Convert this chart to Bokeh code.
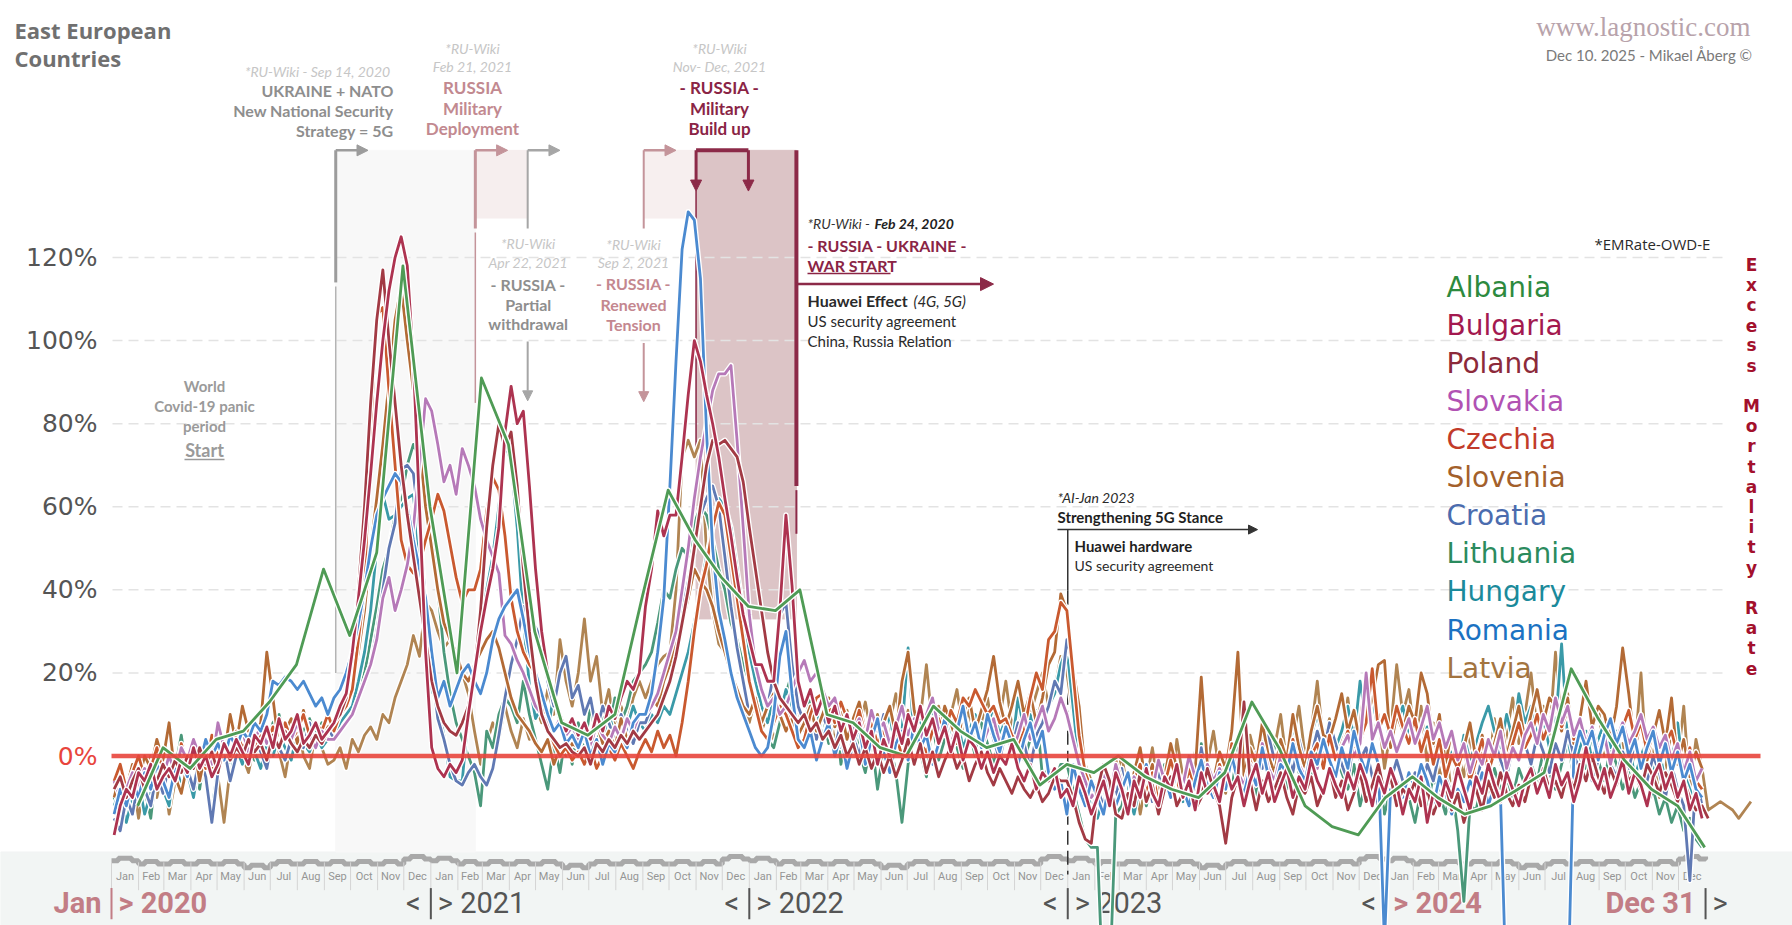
import pandas as pd
from bokeh.plotting import figure
from bokeh.models import Range1d, ColumnDataSource, Arrow, NormalHead
from bokeh.core.properties import value
from bokeh.embed import file_html
from bokeh.resources import INLINE

# ------------------------------------------------------------------ data
countries = ["Albania", "Bulgaria", "Poland", "Slovakia", "Czechia", "Slovenia",
             "Croatia", "Lithuania", "Hungary", "Romania", "Latvia"]
legend_colors = ["#2d8a3e", "#a3194f", "#8c2a3a", "#b152b3", "#c23b2a", "#a3602b",
                 "#4b6cae", "#2b8b5e", "#1b8a9b", "#1b72c2", "#a3743f"]
line_colors = ["#4f9b55", "#ad3350", "#a23a44", "#b679b8", "#c9592f", "#b36a35",
               "#6079b3", "#4a987a", "#3a9aa8", "#4b8ad0", "#b08452"]

# weekly excess-mortality P-scores (%), first week of Jan 2020 onwards
bulgaria = [
    -19, -12, -8, -10, -4, -6, -2, -8, -5, -3, -6, -1, -4, 2, -3, 0, -5, -2, 3, 0, 4, 1, -2, 5, 3, 7, 2, 9, 4, 6, 10, 3, 5, 8, 4, 6,
    8, 12, 15, 25, 38, 52, 68, 85, 100, 112, 120, 125, 118, 95, 60, 25,
    2, -3, -5, -2, -4, -1, 10, 20, 30, 38, 45, 55, 78, 89, 80, 83, 65, 45, 30, 20, 14, 10, 6, 9,
    5, 8, 4, 10, 6, 12, 9, 14, 18, 16, 20,
    36, 45, 59, 53, 58, 58, 72, 87, 100, 95, 87, 80, 72, 62, 53, 43, 34, 28, 22, 22, 18, 18, 35, 58, 41, 18,
    12, 16, 10, 14, 8, 12, 6, 10, 4, 8, 2, 6, -2, 4, 0, 8, 3, 10, 6, 12, 5, 9, 3, 7, 1, 6, -1, 4, 2, -3,
    1, -4, 0, -2, 3, -3, -6, -2, -8, -4, -6, -3, -10,
    -8, -12, -5, -9, -14,
    -10, -6, -12, -4, -8, -14, -6, -10, -3, -9, -12, -5, -8, -2, -10, -6, -13, -4, -9, -7, -11, -3, -8, -5, -12,
    -6, -2, -9, -4, -11, -7, -3, -10, -5, -8, -1, -6, -9, -3, -7, -10, -4, -8, -2, -6, -12, -5, -9, -3, -7,
    -14, -8, -11, -5, -16, -9, -12, -6, -10, -3, -8, -13, -5, -9, -2, -7, -11, -4, -8, -12, -6, -3, -9, -5, -10,
    -2, -7, -4, -11, -6, 2, -5, -8, -3, -10, -6, -1, -9, -4, -7, -12, -5, -2, -8, -4, -10, -6, -13, -9, -15]
poland = [
    -8, -5, -10, -6, -3, -8, -4, -6, -2, -5, -1, -4, 0, -3, 2, -2, 1, -4, 3, -1, 2, 0, 4, 1, 3, -1, 5, 2, 6, 3, 1, 4, 2, 5, 3, 6,
    8, 10, 14, 25, 40, 60, 85, 105, 117, 100, 85, 70, 58, 48, 38, 28,
    18, 12, 8, 6, 5, 8, 12, 20, 35, 55, 70, 80, 74, 78, 65, 45, 30, 18, 10, 6, 4, 2, 3, 1,
    0, 2, -2, 3, 1, 4, 2, 5, 3, 6, 4,
    6, 8, 10, 14, 18, 24, 32, 40, 50, 60, 70, 76, 75, 76, 74, 72, 66, 55, 45, 35, 25, 18, 14, 12, 10, 8,
    10, 6, 8, 4, 6, 2, 5, 0, 3, -2, 2, -3, 1, -4, 0, -5, -1, 4, -2, 3, -4, 1, -5, -1, 2, -3, 0, -6, -2, 1,
    -4, -7, -3, -6, -9, -5, -8, -10, -7, -11, -9, -5, -6,
    -6, -10, -16, -20, -21,
    -8, -2, -6, -14, -15, -9, -12, -4, -11, -7, -14, -8, -5, -12, -9, -6, -13, -10, -3, -8, -12, -21, -10, -5, 13,
    -6, -13, -6, -11, -8, -4, -10, -14, -7, -9, -5, -12, -8, -3, -10, -6, -13, -9, -4, -11, -7, -2, -9, -5, -12, -8,
    -10, -6, -12, -8, -14, -10, -7, -13, -9, -16, -11, -8, -13, -6, -10, -4, -9, -12, -7, -11, -5, -9, -3, -8, -6,
    -10, -4, -8, -2, -6, 0, -5, -9, -3, -7, -1, -6, -4, -8, -2, -5, -9, -4, -7, -11, -6, -10, -13, -12, -15]
slovakia = [
    -6, -10, -8, -4, -7, -3, -6, -2, -5, 0, -4, 2, -1, 4, 0, 3, -2, 8, 2, 5, 3, 6, 1, 4, 7, 3, 5, 2, 6, 4, 8, 3, 5, 2, 6, 4,
    4, 6, 8, 10, 14, 18, 22, 28, 38, 43, 35, 40, 46, 55, 70, 86,
    83, 75, 66, 70, 63, 74, 70, 65, 57, 52, 48, 44, 29, 27, 23, 20, 16, 12, 10, 8, 6, 9, 5, 7,
    4, 6, 2, 8, 5, 3, 7, 4, 9, 6, 10,
    10, 12, 15, 20, 25, 30, 40, 50, 62, 72, 80, 88, 92, 92, 94, 76, 55, 34, 22, 16, 12, 14, 10, 12, 16, 20,
    23, 18, 20, 16, 12, 14, 8, 10, 6, 9, 4, 11, 6, 8, 3, 7, 12, 5, 9, 4, 10, 14, 6, 8, 3, 7, 10, 4, 8, 2,
    6, 9, 3, 7, 1, 5, 10, 4, 8, 12, 6, 9, 14,
    10, 4, -2, -6, -10,
    -8, -4, -10, -2, -7, -12, -5, -9, -3, -8, -1, -6, -10, -4, -7, 0, -5, -9, -2, -6, -3, -8, 1, -4, -7,
    -2, -5, 3, -3, -6, 0, -4, 2, -2, -5, 1, -3, 4, -1, -4, 2, 5, 0, 3, 20, 4, 8, 2, 6, 1,
    5, 9, 3, 7, 12, 4, 8, 2, 6, -1, 3, -4, 1, -2, 4, 0, 6, -3, 2, -1, 5, 8, 3, 10, 6,
    14, 8, 12, 5, 9, 3, 7, 1, 5, -2, 4, 8, 3, 6, 10, 4, 7, 2, 5, -1, 3, -4, 1, -6, -3]
czechia = [
    -6, -2, -8, -4, 0, -5, -3, 2, -4, 0, -6, 3, -2, 4, 1, -3, 5, 0, 3, -1, 6, 2, 4, 1, 5, 3, 7, 2, 8, 4, 6, 10, 5, 8, 6, 10,
    6, 10, 12, 16, 28, 40, 78, 106, 108, 88, 70, 52, 46, 44, 46, 52,
    57, 63, 59, 51, 43, 37, 40, 40, 45, 59, 67, 64, 53, 38, 30, 25, 22, 20, 12, 7, 3, 0, 2, -1,
    1, -2, 2, -3, 0, 2, -1, 3, 0, -3, 1,
    4, 1, 6, 2, 5, 0, 8, 18, 30, 40, 46, 55, 61, 58, 48, 38, 28, 18, 12, 6, 4, 8, 12, 10, 6, 2,
    4, 10, 14, 15, 12, 8, 13, 9, 6, 11, 5, 8, 3, 6, 2, 5, 0, 4, -2, 3, 1, 6, 9, 5, 11, 8, 14, 12, 16, 13,
    10, 12, 8, 9, 5, 3, 6, 14, 20, 16, 28, 30, 37,
    35, 20, 5, -4, -8,
    -10, -5, -12, -3, -8, -14, -6, -2, -9, -4, -11, -7, -1, -6, -10, -3, -8, 0, -5, -9, -2, -7, 3, -4, -8,
    -1, -5, 2, -3, -7, 1, -4, 4, -2, -6, 0, 3, -3, 5, -1, 2, 6, 1, 4, 8, 21, 6, 10, 5, 12,
    7, 3, 9, 1, 6, -2, 4, -5, 0, -3, 2, -6, -1, 4, -4, 1, 6, -2, 3, 8, 2, 5, 10, 4, 8,
    13, 7, 11, 4, 9, 2, 6, -1, 5, 9, 3, 7, 11, 4, 8, 1, 5, -2, 3, 6, 0, -4, 2, -6, -8]
slovenia = [
    -10, -4, -8, -2, -6, 0, -3, 4, -1, 8, -5, -9, -2, 3, -6, 1, -4, 5, 0, 10, 3, 12, 6, 4, 8, 25, 14, 2, 6, 9, 3, 11, 5, 8, 4, 7,
    8, 10, 14, 18, 25, 35, 50, 62, 75, 90, 105, 113, 100, 88, 75, 60,
    50, 40, 32, 28, 25, 20, 18, 22, 25, 28, 30, 26, 20, 14, 10, 8, 6, 3, 1, 4, -2, 2, 0, 3,
    2, 5, 0, 8, 3, 6, 2, 9, 4, 7, 10,
    10, 14, 12, 18, 22, 28, 32, 38, 45, 42, 40, 36, 30, 25, 20, 16, 12, 10, 14, 8, 12, 15, 10, 6, 9, 5,
    8, 12, 6, 10, 14, 7, 11, 4, 9, 13, 6, 10, 3, 8, 12, 5, 18, 25, 11, 4, 10, 9, 5, 12, 8, 3, 10, 14, 6, 11,
    16, 24, 13, 7, 12, 18, 10, 15, 8, 14, 22, 25, 39,
    35, 21, 12, -4, -10,
    -8, -3, -10, -1, -6, -12, -4, 2, -7, -2, -9, -5, 3, -3, -8, 0, -4, 19, -2, -6, 1, -3, 6, 25, -5,
    2, -2, 8, 0, -4, 4, -1, 10, 2, -3, 6, 12, 5, 4, 9, 15, 6, 11, 3, 8, 14, 22, 23, 2, 10,
    6, 12, 8, 20, 15, 3, 10, -2, 6, -4, 2, 8, -1, 5, -3, 3, 9, 0, 6, 12, 4, 10, 16, 8, 14,
    12, 6, 14, 3, 9, 18, 7, 12, 10, 4, 12, 26, 15, 2, 8, -1, 5, 11, 3, 14, -2, 4, -5, 1, -3]
croatia = [
    -15, -18, -10, -14, -6, -8, -12, -4, -9, -2, -6, 1, -3, -8, 0, -5, -16, -4, 2, -6, 0, 3, -2, 4, 1, -3, 5, 2, -1, 4, 6, 2, 8, 3, 5, 7,
    4, 6, 8, 10, 14, 18, 22, 30, 40, 50, 56, 69, 70, 68, 55, 37,
    21, 9, 4, -2, -6, -7, -4, -2, -5, -7, -3, 5, 14, 22, 28, 36, 33, 31, 28, 18, 12, 20, 24, 14,
    17, 10, 14, 6, 12, 8, 4, 10, 6, 3, 8,
    8, 12, 15, 18, 22, 28, 35, 42, 50, 58, 62, 65, 60, 48, 36, 26, 18, 10, 14, 8, 12, 20, 34, 37, 22, 12,
    8, 12, 4, 10, 6, 2, 8, -2, 5, 0, 7, -3, 4, 10, 2, 6, -1, 3, 9, 1, 5, -2, 4, 8, 0, 6, 11, 3, 7, 2,
    9, 4, -1, 6, 2, 8, 3, -3, 5, 8, 12, 18, 15,
    28, 22, 6, -10, -14,
    -8, -12, -5, -10, -3, -14, -6, -9, -2, -11, -4, -8, 0, -6, -10, -3, -7, 2, -5, -9, -1, -4, 3, -6, -2,
    -8, 1, -3, 5, -1, -6, 2, -4, 4, -2, 0, 6, 1, 8, 3, -2, -6, 4, -1, 2, -5, -12, -8, -6, -1,
    -6, -10, -4, -8, -2, -6, 1, -5, -9, -3, 2, -4, -7, 0, -3, 4, -1, -5, 2, 8, 3, -2, 5, 1, -4,
    3, -1, 6, 0, -3, 2, -6, -1, 4, -2, -5, 1, -3, 3, -1, -6, 0, -4, -10, -2, -8, -12, -30, -5, -12]
lithuania = [
    -10, -14, -6, -12, -4, -8, -15, -2, -6, -10, -3, 5, -5, -1, -8, 2, -4, 0, 4, -2, 3, 6, 1, -1, 5, 2, 8, 10, 4, 7, 3, 6, 9, 5, 8, 4,
    6, 8, 10, 12, 15, 20, 28, 36, 45, 50, 58, 62, 70, 75, 72, 65,
    55, 40, 25, 15, 8, 4, 0, -4, -12, 6, 2, 10, 14, 12, 8, 18, 10, 4, -2, -8, 3, -4, 6, -2,
    8, 2, 12, 4, 10, 6, 14, 8, 12, 18, 20,
    22, 25, 32, 40, 38, 45, 50, 48, 56, 60, 58, 52, 45, 40, 32, 28, 22, 18, 12, 6, 4, 2, 8, 15, 20, 12,
    8, 14, 6, 10, 3, 12, -2, 6, 9, 1, -4, 4, -8, 2, 3, -4, -16, -2, 6, 1, -5, 8, -1, 4, 10, 2, -3, 6, 0, 8,
    3, -2, 5, 9, 2, 7, -1, 4, 11, -5, -3, -6, -2,
    -2, -8, -14, -20, -22,
    -22, -60, -55, -14, -12, -5, -10, -3, -12, -6, -9, -2, -8, -4, -11, -1, -7, 3, -5, -9, 0, -4, -8, 2, -6,
    -3, -10, 1, -5, 4, -2, -8, 3, -4, -1, -6, 2, -3, 5, 0, -4, -8, -2, -12, -6, -10, -4, -14, -8, -12,
    -6, -10, -16, -8, -12, -5, -9, -14, -7, -18, -35, -12, -13, -6, -10, -3, -8, -5, -10, -3, -7, -2, -6, 1, -4,
    -8, -2, 3, -5, 0, -3, 4, -1, -6, 2, -2, -8, -4, -10, -6, -12, -8, -14, -10, -16, -12, -18, -15, -20, -22]
hungary = [
    -12, -8, -16, -10, -6, -14, -9, -3, -8, -12, -2, -7, -4, -10, -1, -6, -13, -3, 0, -5, 2, -2, 4, 1, -3, 3, 0, 5, 2, -1, 6, 3, 1, 5, 2, 4,
    5, 8, 10, 12, 18, 25, 35, 50, 63, 57, 58, 60, 62, 63, 48, 33,
    16, 12, 5, -5, -6, -6, 10, 20, 33, 40, 48, 60, 75, 71, 55, 33, 17, 9, 12, 6, 15, 8, 4, 7,
    3, 6, 1, 8, 4, 10, 5, 2, 7, 12, 8,
    6, 10, 8, 12, 10, 15, 20, 25, 32, 40, 48, 55, 62, 60, 55, 45, 35, 25, 18, 12, 8, 14, 10, 16, 12, 8,
    10, 6, 12, 4, 8, 14, 2, 9, 5, 11, 3, 7, -2, 5, 10, 1, 6, 26, 3, 8, 0, 12, 7, 11, 4, 9, 2, 6, 10, 3,
    7, 12, 5, 9, 2, 14, 6, 10, 4, 8, 12, 15, 22,
    26, 12, -2, -8, -12,
    -15, -10, -6, -12, -4, -9, -14, -7, -2, -10, -5, -8, 0, -6, -11, -3, -7, 2, -4, -9, -1, -5, 3, -3, -7,
    1, -2, 5, -1, -5, 3, 0, 7, 2, -3, 5, 10, 4, 8, 2, 6, 12, 4, 18, 8, 14, 6, 10, 3, 8,
    12, 5, 9, 2, 7, -2, 4, -5, 1, -3, 5, -1, 3, 8, 12, 6, 2, 10, 4, 15, 8, 12, 5, 9, 2,
    7, 27, 4, -3, 2, 6, -1, 4, 8, 2, 6, -2, 3, -5, 0, 4, -3, 1, -6, -2, 8, -4, -8, -12, -10]
romania = [
    -14, -8, -12, -6, -10, -4, -8, -2, -6, -10, -3, -1, -5, 2, -2, 4, 0, 3, -1, 5, 2, 6, 4, 8, 6, 10, 18, 17, 19, 18, 16, 18, 15, 12, 14, 10,
    14, 16, 20, 25, 32, 40, 50, 58, 62, 65, 68, 66, 60, 52, 45, 38,
    25, 14, 18, 12, 16, 20, 22, 18, 15, 20, 28, 33, 36, 38, 40, 33, 25, 20, 15, 10, 6, 8, 3, 5,
    2, 6, 0, 4, -2, 3, 1, 5, 2, 8, 10,
    10, 15, 25, 38, 65, 95, 122, 131, 129, 115, 78, 50, 35, 28, 20, 14, 10, 6, 2, 0, 2, 10, 24, 30, 15, 4,
    2, 6, -1, 4, 8, 0, 5, -3, 3, 7, -2, 4, 9, 1, -4, 3, 6, -1, 8, 2, 5, -2, 3, 9, 1, 6, 12, 4, 8, 2,
    10, 5, 1, 7, 3, -2, 4, 8, 2, 6, -4, -8, -6,
    -14, -2, -8, -12, -6,
    -10, -14, -6, -12, -8, -4, -11, -7, -2, -9, -13, -5, -10, -3, -8, -12, -6, -1, -7, -10, -4, -8, 0, -6, -9,
    -3, -7, 2, -5, -8, -2, -4, 3, -3, -6, 1, -2, 4, -1, -5, 2, -3, 6, 0, -4, 3, -2, -45, -8, -6,
    -10, -4, -8, -2, -6, -12, -5, -9, -14, -8, -11, -6, -9, -4, -12, -7, -10, -60, -60, -60, -60, -60, -60, -60, -60,
    -60, -60, -60, 0, 6, 2, 6, -1, 5, 9, 3, 7, 0, 4, -3, 2, 6, -2, 3, -4, 1, -6, -2, -8, -10]
latvia = [
    -8, -2, -12, -5, -15, -6, 0, -10, -3, -14, -6, -9, -4, 2, -8, -2, 4, -5, -16, -3, 6, 0, -4, 3, 8, -2, 5, 1, -5, 4, 9, 0, -3, 6, 2, -2,
    -1, 2, -3, 4, 1, 5, 7, 4, 10, 8, 14, 18, 22, 29, 24, 37,
    35, 30, 26, 28, 25, 20, 15, 6, -2, 3, 8, 4, 12, 6, 2, 9, 4, 12, 8, 16, 10, 28, 18, 12,
    20, 33, 18, 24, 10, 16, 6, 12, 8, 14, 18,
    14, 18, 22, 24, 25, 40, 72, 76, 72, 76, 49, 35, 27, 25, 19, 15, 12, 8, 14, 6, 10, 4, 8, 12, 6, 10,
    6, 12, 4, 9, 14, 3, 8, 11, 2, 7, 13, 5, 10, 1, 8, 15, 6, 11, 3, 9, 22, 7, 12, 4, 10, 16, 6, 11, 2, 8,
    14, 5, 9, 18, 7, 12, 4, 10, 15, 20, 12, 16, 24,
    20, 10, 4, -2, -6,
    -8, -3, -12, -5, 0, -9, -4, -14, -6, 2, -8, -3, -10, 4, -5, -12, 1, -6, -2, 6, -4, -9, 3, -3, -7,
    5, -1, 8, -4, 2, 10, -2, 4, 12, 0, 6, 18, 3, 9, -1, 5, 14, 2, 8, 20, 4, 10, -3, 6, 22,
    10, 16, 4, 12, -2, 8, -6, 4, -10, 1, -5, 6, -8, 2, -4, 9, -2, 5, 14, 3, 10, 20, 6, 12, 4,
    25, 8, 15, 2, 10, -3, 6, 12, 0, 8, -5, 3, -8, 1, 20, -4, 2, -10, -3, 6, -2, 12, -8, 4, -3,
    -13, -12, -11, -12, -13, -15, -13, -11]
# Albania: monthly values (end of month), Jan 2020 - Dec 2024
albania = [
    -12, 2, -3, 4, 6, 13, 22, 45, 29, 49, 118, 60,
    20, 91, 75, 30, 8, 5, 10, 38, 64, 52, 43, 36,
    35, 40, 10, 8, 2, 0, 12, 6, 2, 4, -7, -2,
    -4, 0, -5, -8, -10, -4, 13, 2, -12, -17, -19, -10,
    -5, -10, -14, -12, -8, -4, 21, 9, -1, -8, -12, -22]

weekly = {"Bulgaria": bulgaria, "Poland": poland, "Slovakia": slovakia, "Czechia": czechia,
          "Slovenia": slovenia, "Croatia": croatia, "Lithuania": lithuania, "Hungary": hungary,
          "Romania": romania, "Latvia": latvia}

y_ticks = [0, 20, 40, 60, 80, 100, 120]
month_names = ["Jan", "Feb", "Mar", "Apr", "May", "Jun", "Jul", "Aug", "Sep", "Oct", "Nov", "Dec"]
years = [2020, 2021, 2022, 2023, 2024]
strip_levels = [-24.6, -25.4, -25.4, -25.4, -25.4, -26.3, -25.4, -25.4, -25.4, -25.4, -25.4, -24.2]

# ------------------------------------------------------------------ geometry
BASE = pd.Timestamp("2020-01-01")


def day(d):
    return (pd.Timestamp(d) - BASE) / pd.Timedelta(days=1)


W, H = 1792, 925
PXD = 0.8725   # screen px per day
PXY = 4.154    # screen px per percentage point
X0, X1 = (0 - 111) / PXD, (W - 111) / PXD
Y0, Y1 = (755.5 - H) / PXY, (755.5 - 0) / PXY


def tx(X):
    return (X - 111) / PXD


def ty(Y):
    return (755.5 - Y) / PXY


p = figure(width=W, height=H, x_range=Range1d(X0, X1), y_range=Range1d(Y0, Y1),
           output_backend="svg", toolbar_location=None, min_border=0,
           x_axis_type=None, y_axis_type=None, outline_line_color=None,
           background_fill_color="white", border_fill_color="white")


def txt(x, y, s, size, color, font="Lato", style="normal", align="left", baseline="middle"):
    p.text(x=[x], y=[y], text=[s], text_font=value(font), text_font_size=f"{size}px",
           text_font_style=style, text_color=color, text_align=align, text_baseline=baseline)


def arrow(x0, y0, x1, y1, color, width=2.5, size=11):
    p.add_layout(Arrow(end=NormalHead(size=size, fill_color=color, line_color=color, line_width=1),
                       x_start=x0, y_start=y0, x_end=x1, y_end=y1,
                       line_color=color, line_width=width))


TOP = 145.8
D_NATO, D_DEPL, D_WITH = day("2020-09-14"), day("2021-02-21"), day("2021-04-22")
D_TENS, D_BU0, D_BU1 = day("2021-09-02"), day("2021-11-01"), day("2021-12-31")
D_WAR, D_J23 = day("2022-02-24"), day("2023-01-01")
STRIP_TOP = -23.1

# ------------------------------------------------------------------ background
p.quad(left=[X0], right=[X1], bottom=[Y0], top=[STRIP_TOP], color="#f2f5f4")
p.quad(left=[D_NATO], right=[D_DEPL], bottom=[STRIP_TOP], top=[TOP], color="#f8f8f8")
p.quad(left=[D_DEPL], right=[D_WITH], bottom=[129.5], top=[TOP], color="#f6eeee")
p.quad(left=[D_TENS], right=[D_BU0], bottom=[129.5], top=[TOP], color="#f7efef")
p.quad(left=[D_BU0], right=[D_WAR], bottom=[33], top=[TOP], color="#dcc4c6")

# grid lines
grid_vals = [v for v in y_ticks if v > 0]
p.segment(x0=[tx(112)] * len(grid_vals), x1=[tx(1723)] * len(grid_vals), y0=grid_vals, y1=grid_vals,
          line_color="#e3e3e3", line_width=1.5, line_dash="10 6")

# y tick labels
p.text(x=[tx(97)] * len(y_ticks), y=y_ticks, text=[f"{v}%" for v in y_ticks],
       text_color=["#e8453c" if v == 0 else "#555555" for v in y_ticks],
       text_font=value("DejaVu Sans"), text_font_size="25px", text_align="right", text_baseline="middle")

# ------------------------------------------------------------------ month strip
m_start = [day(f"{y}-{m:02d}-01") for y in years for m in range(1, 13)]
m_end = m_start[1:] + [day("2025-01-01")]
sx, sy = [], []
for i, (a, b) in enumerate(zip(m_start, m_end)):
    lvl = strip_levels[i % 12]
    L = b - a
    sx += [a, a + L * 0.25, a + L * 0.75]
    sy += [lvl - 0.6, lvl, lvl - 0.6]
sx.append(m_end[-1])
sy.append(strip_levels[-1])
p.step(sx, sy, mode="after", line_color="#a9a9a9", line_width=5)
p.segment(x0=m_start, x1=m_start, y0=[-25.6] * 60, y1=[-32.3] * 60, line_color="#d4d4d4", line_width=1)
p.text(x=[(a + b) / 2 for a, b in zip(m_start, m_end)], y=[-29.0] * 60,
       text=[month_names[i % 12] for i in range(60)], text_color="#959595",
       text_font=value("Roboto"), text_font_size="11px",
       text_align="center", text_baseline="middle")

# year labels
PINK, DGRAY = "#c27d85", "#555555"
YL = -35.5
offL = 10 / PXD
offR = 7 / PXD
bounds = [day(f"{y}-01-01") for y in years] + [day("2025-01-01")]
bar_cols = [PINK, DGRAY, DGRAY, DGRAY, PINK, DGRAY]
p.segment(x0=bounds, x1=bounds, y0=[-31.8] * 6, y1=[-39.3] * 6, line_color=bar_cols, line_width=2)
YF = "Roboto"
YS = 29
txt(bounds[0] - offL, YL, "Jan", YS, PINK, YF, "bold", "right")
txt(bounds[0] + offR, YL, "> 2020", YS, PINK, YF, "bold")
for b, y in zip(bounds[1:4], years[1:4]):
    txt(b - offL, YL, "<", YS, DGRAY, YF, "normal", "right")
    txt(b + offR, YL, f"> {y}", YS, DGRAY, YF)
txt(bounds[4] - offL, YL, "<", YS, DGRAY, YF, "normal", "right")
txt(bounds[4] + offR, YL, "> 2024", YS, PINK, YF, "bold")
txt(bounds[5] - offL, YL, "Dec 31", YS, PINK, YF, "bold", "right")
txt(bounds[5] + offR, YL, ">", YS, DGRAY, YF)

# ------------------------------------------------------------------ event markers
GR, PK, DR = "#9c9c9c", "#c4949a", "#8c2a48"
p.segment(x0=[D_NATO], x1=[D_NATO], y0=[TOP], y1=[114], line_color=GR, line_width=3)
p.segment(x0=[D_NATO], x1=[D_NATO], y0=[113], y1=[20], line_color="#b4b4b4", line_width=1.5)
arrow(D_NATO, TOP, D_NATO + 37, TOP, GR)
p.segment(x0=[D_DEPL], x1=[D_DEPL], y0=[TOP], y1=[127], line_color=PK, line_width=3)
p.segment(x0=[D_DEPL], x1=[D_DEPL], y0=[126], y1=[85], line_color=PK, line_width=1.5)
arrow(D_DEPL, TOP, D_DEPL + 37, TOP, PK)
p.segment(x0=[D_WITH], x1=[D_WITH], y0=[TOP], y1=[127], line_color="#a6a6a6", line_width=2)
arrow(D_WITH, TOP, D_WITH + 37, TOP, "#a6a6a6")
arrow(D_WITH, 99.8, D_WITH, 85.5, "#a6a6a6", 2, 10)
p.segment(x0=[D_TENS], x1=[D_TENS], y0=[TOP], y1=[127], line_color=PK, line_width=2)
arrow(D_TENS, TOP, D_TENS + 37, TOP, PK)
arrow(D_TENS, 99.4, D_TENS, 85.3, PK, 2, 10)
p.segment(x0=[D_BU0], x1=[D_BU1], y0=[TOP], y1=[TOP], line_color=DR, line_width=4)
arrow(D_BU0, TOP, D_BU0, 136, DR, 3, 11)
arrow(D_BU1, TOP, D_BU1, 136, DR, 3, 11)
p.segment(x0=[D_BU0], x1=[D_BU0], y0=[136], y1=[74], line_color=DR, line_width=1.5)
p.segment(x0=[D_WAR], x1=[D_WAR], y0=[TOP], y1=[65], line_color=DR, line_width=4)
p.segment(x0=[D_WAR], x1=[D_WAR], y0=[64], y1=[53.5], line_color=DR, line_width=2)
arrow(D_WAR, 113.6, tx(993), 113.6, DR, 2.5, 13)
p.segment(x0=[D_J23], x1=[D_J23], y0=[54.5], y1=[39.8], line_color="#333333", line_width=1.5)
p.segment(x0=[D_J23], x1=[D_J23], y0=[39.8], y1=[-28.5], line_color="#333333", line_width=1.5,
          line_dash="14 6")
arrow(tx(1057), 54.5, tx(1257), 54.5, "#333333", 1.5, 9)

# ------------------------------------------------------------------ series
for name in ["Latvia", "Lithuania", "Hungary", "Croatia", "Slovenia", "Czechia", "Slovakia",
             "Romania", "Poland", "Bulgaria"]:
    vals = weekly[name]
    src = ColumnDataSource(dict(x=[7 * i + 3 for i in range(len(vals))], y=vals))
    col = line_colors[countries.index(name)]
    p.line("x", "y", source=src, line_color="white", line_width=5.5, line_join="round")
    p.line("x", "y", source=src, line_color=col, line_width=2.8, line_join="round")
al_x = [day(pd.Timestamp(2020 + i // 12, i % 12 + 1, 1) + pd.offsets.MonthEnd(0)) for i in range(len(albania))]
al_src = ColumnDataSource(dict(x=al_x, y=albania))
p.line("x", "y", source=al_src, line_color="white", line_width=5.5, line_join="round")
p.line("x", "y", source=al_src, line_color=line_colors[0], line_width=2.8, line_join="round")

# zero line
p.segment(x0=[tx(111)], x1=[tx(1760)], y0=[0], y1=[0], line_color="#e8453c", line_width=4.5, line_alpha=0.9)

# ------------------------------------------------------------------ texts
txt(tx(14), ty(29), "East European", 22, "#707070", "Open Sans", "bold")
txt(tx(14), ty(57), "Countries", 22, "#707070", "Open Sans", "bold")
txt(tx(1750), ty(26), "www.lagnostic.com", 27, "#b8a3ab", "Liberation Serif", "normal", "right")
txt(tx(1752), ty(54), "Dec 10. 2025 - Mikael Åberg ©", 15, "#7a7a7a", "Lato", "normal", "right")
txt(tx(1594), ty(243.5), "*EMRate-OWD-E", 15, "#2a2a2a", "Open Sans")

for k, (name, col) in enumerate(zip(countries, legend_colors)):
    txt(tx(1446), ty(287 + 38.06 * k), name, 28, col, "DejaVu Sans")

label = "Excess Mortality Rate"
p.text(x=[tx(1751)] * len(label), y=[ty(264 + 20.2 * i) for i in range(len(label))], text=list(label),
       text_color="#a3102c", text_font=value("DejaVu Sans"), text_font_style="bold",
       text_font_size="17px", text_align="center", text_baseline="middle")

LG, AG = "#c6c6c6", "#8e8e8e"
# World covid
for s, Y in [("World", 385), ("Covid-19 panic", 405.5), ("period", 425)]:
    txt(tx(204), ty(Y), s, 15, "#9a9a9a", "Lato", "bold", "center")
txt(tx(204), ty(449), "Start", 18, "#9a9a9a", "Lato", "bold", "center")
p.segment(x0=[tx(184)], x1=[tx(224)], y0=[ty(459)], y1=[ty(459)], line_color="#9a9a9a", line_width=1.5)
# NATO
txt(tx(393), ty(70.7), "*RU-Wiki  - Sep 14, 2020", 14, LG, "Lato", "italic", "right")
for s, Y in [("UKRAINE + NATO", 90), ("New National Security", 110), ("Strategy = 5G", 130)]:
    txt(tx(393), ty(Y), s, 16, AG, "Lato", "bold", "right")
# Feb 21 2021
txt(tx(472), ty(48.3), "*RU-Wiki", 14, LG, "Lato", "italic", "center")
txt(tx(472), ty(65.7), "Feb 21, 2021", 14, LG, "Lato", "italic", "center")
for s, Y in [("RUSSIA", 87.3), ("Military", 107.7), ("Deployment", 127.7)]:
    txt(tx(472), ty(Y), s, 17, "#c28990", "Lato", "bold", "center")
# Nov-Dec 2021
txt(tx(719), ty(48.3), "*RU-Wiki", 14, LG, "Lato", "italic", "center")
txt(tx(719), ty(65.7), "Nov- Dec, 2021", 14, LG, "Lato", "italic", "center")
for s, Y in [("- RUSSIA -", 87.3), ("Military", 107.7), ("Build up", 127.7)]:
    txt(tx(719), ty(Y), s, 17, "#8a2445", "Lato", "bold", "center")
# Apr 22 2021
txt(tx(527.7), ty(243.4), "*RU-Wiki", 14, LG, "Lato", "italic", "center")
txt(tx(527.7), ty(262), "Apr 22, 2021", 14, LG, "Lato", "italic", "center")
for s, Y in [("- RUSSIA -", 284), ("Partial", 304), ("withdrawal", 323)]:
    txt(tx(527.7), ty(Y), s, 16, AG, "Lato", "bold", "center")
# Sep 2 2021
txt(tx(633), ty(243.8), "*RU-Wiki", 14, LG, "Lato", "italic", "center")
txt(tx(633), ty(261.5), "Sep 2, 2021", 14, LG, "Lato", "italic", "center")
for s, Y in [("- RUSSIA -", 283), ("Renewed", 303.6), ("Tension", 323.6)]:
    txt(tx(633), ty(Y), s, 16, "#c4878f", "Lato", "bold", "center")
# War
txt(tx(807), ty(222.5), "*RU-Wiki  -", 14, "#333333", "Lato", "italic")
txt(tx(874), ty(222.5), "Feb 24, 2020", 14, "#222222", "Lato", "bold italic")
txt(tx(807), ty(245), "- RUSSIA - UKRAINE -", 16, "#8a2445", "Lato", "bold")
txt(tx(807), ty(264.6), "WAR START", 16, "#8a2445", "Lato", "bold")
p.segment(x0=[tx(807)], x1=[tx(890)], y0=[ty(273)], y1=[ty(273)], line_color="#8a2445", line_width=1.5)
txt(tx(807), ty(300), "Huawei Effect", 16, "#2a2a2a", "Lato", "bold")
txt(tx(913), ty(300), "(4G, 5G)", 15, "#2a2a2a", "Lato", "italic")
txt(tx(807), ty(320), "US security agreement", 15, "#2a2a2a", "Lato")
txt(tx(807), ty(340.5), "China, Russia Relation", 15, "#2a2a2a", "Lato")
# Jan 2023
txt(tx(1057), ty(497), "*AI-Jan 2023", 14, "#2a2a2a", "Lato", "italic")
txt(tx(1057), ty(516), "Strengthening 5G Stance", 15, "#1f1f1f", "Lato", "bold")
txt(tx(1074), ty(545), "Huawei hardware", 15, "#1f1f1f", "Lato", "bold")
txt(tx(1074), ty(565), "US security agreement", 14, "#2a2a2a", "Lato")

open("out.html", "w").write(file_html(p, INLINE))
